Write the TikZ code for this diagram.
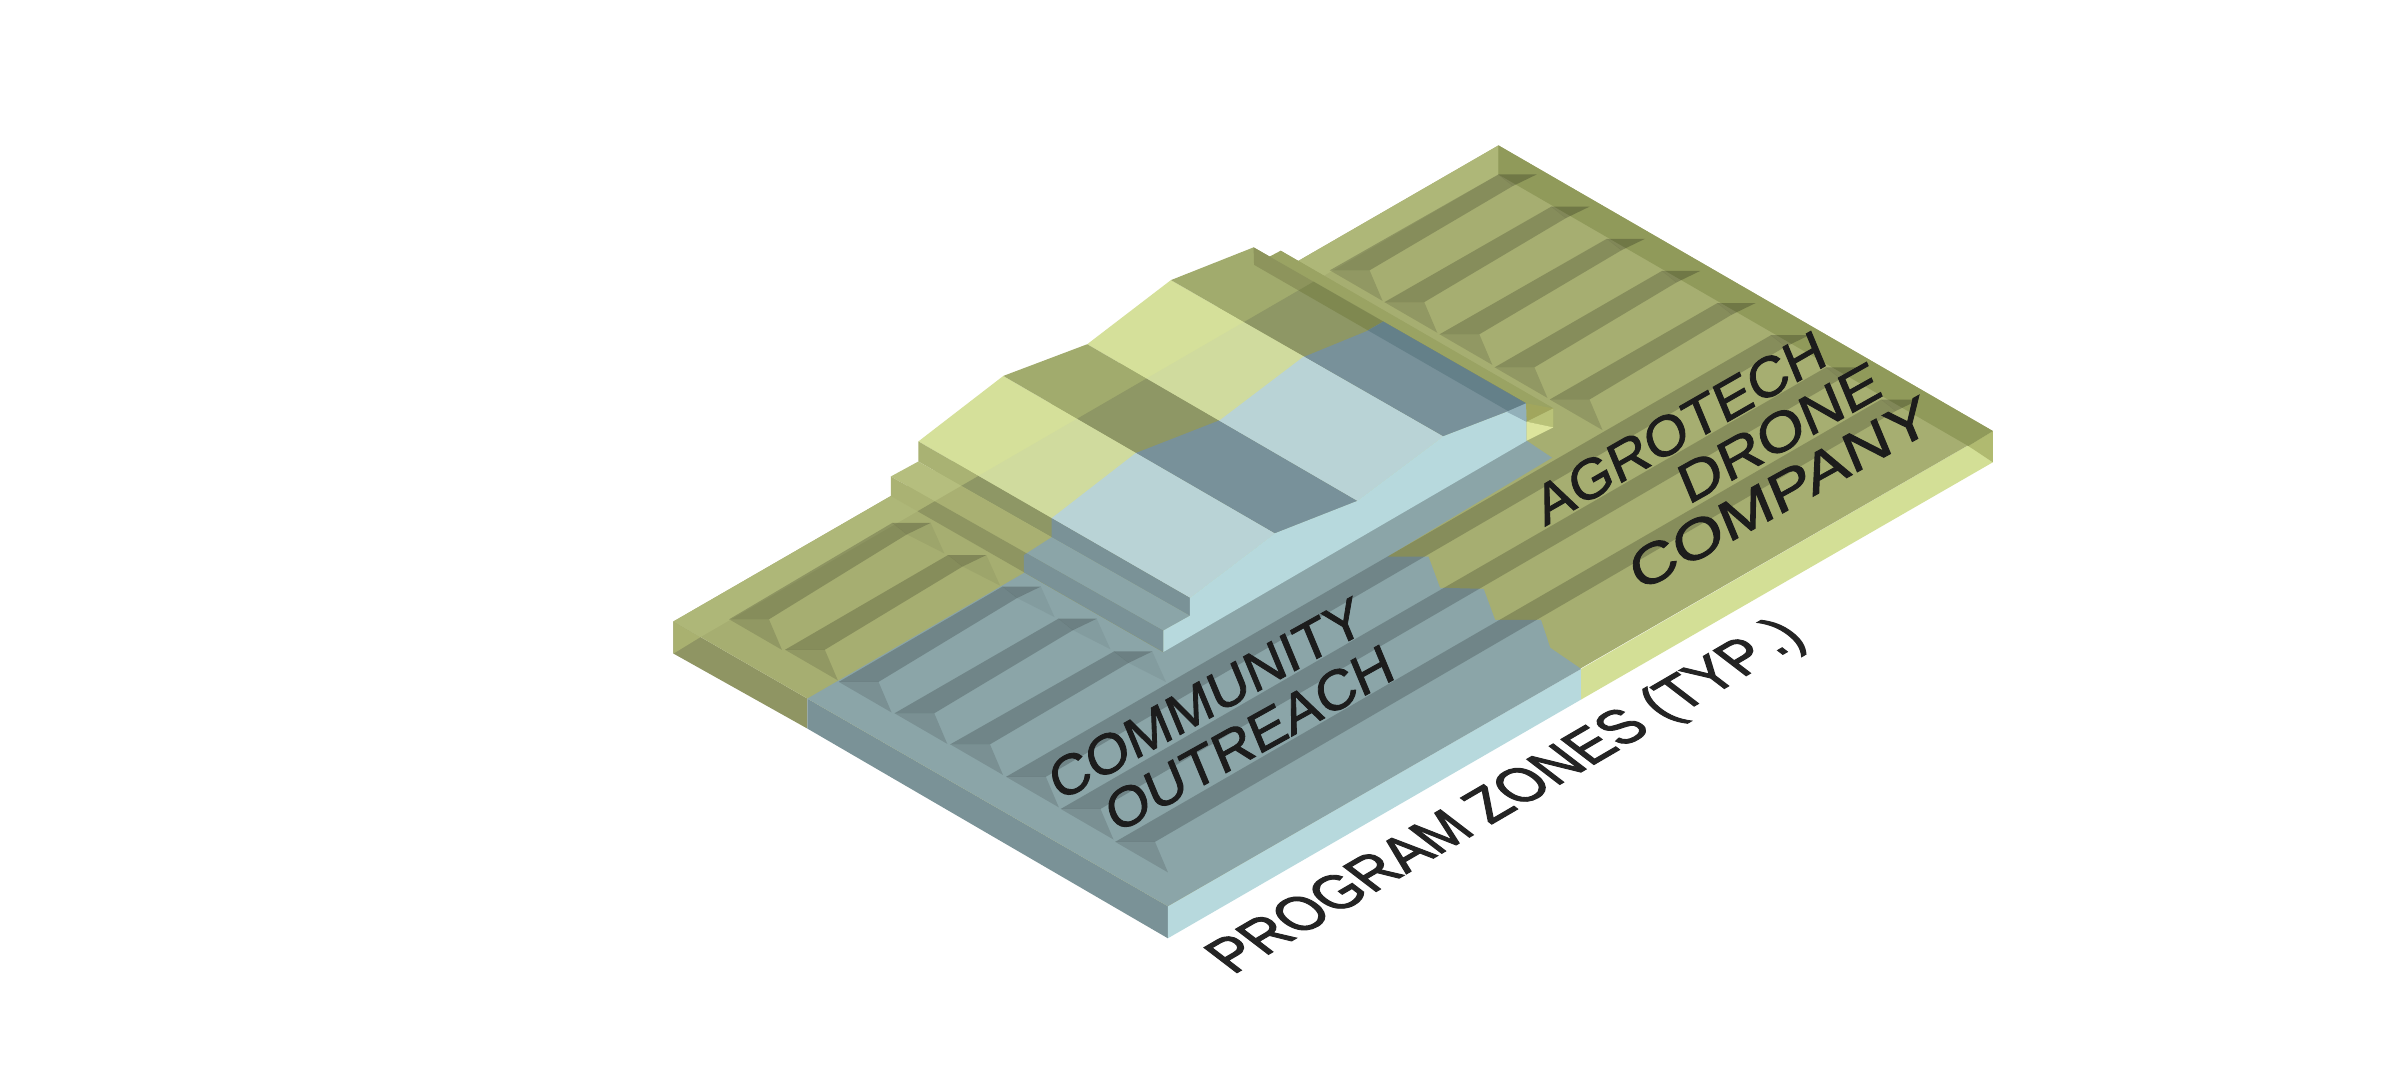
\documentclass[tikz,border=0pt]{standalone}
\usepackage{fontspec}
\setmainfont{Liberation Sans}
\newfontfamily\labfont[FakeBold=1.5]{Liberation Sans}
\newfontfamily\labfontb[FakeBold=2]{Liberation Sans}
\definecolor{gTop}{HTML}{A6AE71}
\definecolor{gStrip}{HTML}{AEB778}
\definecolor{gBand}{HTML}{909A5A}
\definecolor{gSide}{HTML}{8F9563}
\definecolor{bTop}{HTML}{8BA5A8}
\definecolor{bSide}{HTML}{7A9297}
\definecolor{bLight}{HTML}{B7D9DD}
\definecolor{ySide}{HTML}{D3DF96}
\definecolor{triL}{HTML}{A9B170}
\definecolor{triR}{HTML}{B0BA70}
\definecolor{ry1}{HTML}{D5E09A}
\definecolor{rd1}{HTML}{A1AB6D}
\definecolor{wa1}{HTML}{A9B273}
\definecolor{tp1}{HTML}{B5BE7E}
\definecolor{wb1}{HTML}{AAB273}
\definecolor{ry2}{HTML}{D0DB9E}
\definecolor{rd2}{HTML}{8E9765}
\definecolor{wa2}{HTML}{8E9765}
\definecolor{tp2}{HTML}{A9B072}
\definecolor{wb2}{HTML}{8E9561}
\definecolor{ry3}{HTML}{B9D3D6}
\definecolor{rd3}{HTML}{78919A}
\definecolor{bkBand}{HTML}{9AA363}
\definecolor{bkWall}{HTML}{8D945C}
\definecolor{bkWallIn}{HTML}{7F8850}
\definecolor{bkWallB}{HTML}{648089}
\definecolor{pkBlue}{HTML}{92B0B9}
\definecolor{pkOl}{HTML}{A1A65D}
\definecolor{pkMid}{HTML}{B9C278}
\definecolor{pkYel}{HTML}{DDE59C}
\tikzset{
  x=0.0153061cm,y=-0.0153061cm,
  grooveStrip/.style={fill=black,fill opacity=.19},
  grooveDark/.style={fill=black,fill opacity=.22},
  grooveTip/.style={fill=black,fill opacity=.12},
  grooveBack/.style={fill=black,fill opacity=.05},
  lab/.style={anchor=base west,inner sep=0pt,outer sep=0pt,text=black!89,font=\labfont\fontsize{20}{24}\selectfont},
  labb/.style={anchor=base west,inner sep=0pt,outer sep=0pt,text=black!86,font=\labfontb\fontsize{20}{24}\selectfont},
}
% x0 y0 = groove left front; xb yb = groove left back
\newcommand{\groovepart}[4]{%
  \fill[grooveStrip] (#1,#2) -- (#1+26,#2) -- (#3+9.5,#4+7.5) -- (#3,#4) -- cycle;
  \fill[grooveDark] (#3,#4) -- (#3+25,#4) -- (#3+9.5,#4+7.5) -- cycle;
  \fill[grooveTip] (#1,#2) -- (#1+26,#2) -- (#1+34.5,#2+20) -- cycle;
}
\newcommand{\groovebacktri}[2]{%
  \fill[grooveBack] (#1+25,#2) -- (#1+34,#2+20) -- (#1+9.5,#2+7.5) -- cycle;
}
% roofYellow roofDark wall2 top1 wall1
\newcommand{\bldg}[5]{%
  \fill[#1] (600,288.4) -- (655.5,245.6) -- (833,348.4) -- (777.4,390.6) -- cycle;
  \fill[#1] (710.3,224.9) -- (765,183) -- (943,285) -- (886.7,327.3) -- cycle;
  \fill[#2] (655.5,245.6) -- (710.3,224.9) -- (886.7,327.3) -- (833,348.4) -- cycle;
  \fill[#2] (765,183) -- (819,161.6) -- (997.5,264) -- (943,285) -- cycle;
  \fill[#3] (600,288.4) -- (777.4,390.6) -- (777.4,402.3) -- (600,301.5) -- cycle;
  \fill[#4] (582,311.3) -- (600,301.5) -- (777.4,402.3) -- (760,412) -- cycle;
  \fill[#5] (582,311.3) -- (760,412) -- (760,426) -- (582,324) -- cycle;
}
\begin{document}
\begin{tikzpicture}
\useasboundingbox (0,0) rectangle (1568,705.6);
\fill[white] (0,0) rectangle (1568,705.6);
% side faces
\fill[gSide] (440,406) -- (527.5,456.4) -- (527.5,476) -- (440,427) -- cycle;
\fill[triL] (440,406) -- (457.5,416.3) -- (440,427) -- cycle;
\fill[bSide] (527.5,456.4) -- (763,592) -- (763,613) -- (527.5,476) -- cycle;
\fill[bLight] (763,592) -- (1033,437) -- (1033,457) -- (763,613) -- cycle;
\fill[ySide] (1033,437) -- (1302,281.6) -- (1302,302) -- (1033,457) -- cycle;
\fill[triR] (1302,281.6) -- (1286,291.4) -- (1302,302) -- cycle;
% base top
\fill[gTop] (440,406) -- (979,95) -- (1302,281.6) -- (763,592) -- cycle;
\fill[gStrip] (440,406) -- (979,95) -- (979,114) -- (457.5,416.3) -- cycle;
\fill[gBand] (979,95) -- (1302,281.6) -- (1286,291.4) -- (979,114) -- cycle;
\fill[bTop] (527.5,456.4) -- (669,374.3) -- (997.4,287.9) -- (1014,299) -- (906.3,363.7) -- (933.3,363.7) -- (940.8,384) -- (969.3,384.7) -- (976.8,405) -- (1006.8,405) -- (1012.8,423.2) -- (1033,437) -- (763,592) -- cycle;
% grooves, left
\groovepart{476.4}{404.6}{583}{341.6}\groovebacktri{583}{341.6}
\groovepart{512.9}{424.5}{619.4}{362.6}\groovebacktri{619.4}{362.6}
\groovepart{548}{445.5}{655}{383.2}\groovebacktri{655}{383.2}
\groovepart{584.4}{466}{691.5}{404.2}\groovebacktri{691.5}{404.2}
\groovepart{620.8}{486.3}{727.8}{425.6}\groovebacktri{727.8}{425.6}
% long grooves
\groovepart{657.3}{507.5}{1157}{219}
\groovepart{693}{528.5}{1193}{240}
\groovepart{728.6}{550}{1229}{261}
% grooves, right
\groovepart{868.8}{176.6}{978.9}{114}
\groovepart{904.5}{197.4}{1013.5}{135}
\groovepart{940.5}{218.4}{1049.8}{156}
\groovepart{976.5}{240}{1085.8}{177}
\groovepart{1012.5}{261}{1122}{198}
% back band behind the building
\fill[bkBand] (819.3,173) -- (836.7,163.8) -- (1014.8,266.8) -- (997.4,275.5) -- cycle;
\fill[bkBand] (836.7,163.8) -- (1014.8,266.8) -- (1014.8,279.2) -- (837,176) -- cycle;
% building
\bldg{ry1}{rd1}{wa1}{tp1}{wb1}
\fill[bkWall] (819,161.6) -- (997,263.5) -- (997.4,275.5) -- (819.3,173) -- cycle;
\begin{scope}
  \clip (457.5,416.3) -- (979,114) -- (1500,416) -- (1000,700) -- (457.5,700) -- cycle;
  \bldg{ry2}{rd2}{wa2}{tp2}{wb2}
  \fill[bkWallIn] (819,161.6) -- (997,263.5) -- (997.4,275.5) -- (819.3,173) -- cycle;
\end{scope}
\begin{scope}
  \clip (669,374.3) -- (669,362.6) -- (687,351) -- (687,338.6) -- (742,296) -- (797,274.5) -- (851,233.5) -- (893,216.3) -- (904,210) -- (1100,210) -- (1100,600) -- (669,600) -- cycle;
  \bldg{ry3}{rd3}{bSide}{bTop}{bSide}
  \fill[bLight] (760,426) -- (760,412) -- (777.4,402.3) -- (777.4,390.6) -- (833,348.4) -- (886.7,327.3) -- (943,285) -- (997.5,264) -- (997.4,288) -- cycle;
  \fill[bkWallB] (819,161.6) -- (997,263.5) -- (997.4,275.5) -- (819.3,173) -- cycle;
\end{scope}
% pocket at the right end of the terrace
\fill[pkBlue] (997,263.5) -- (984.3,269) -- (997.4,275.5) -- cycle;
\fill[pkOl] (997,263.5) -- (1014.8,266.8) -- (997.4,275.5) -- cycle;
\fill[pkMid] (1014.8,266.8) -- (1014.8,279.2) -- (997.4,275.5) -- cycle;
\fill[pkYel] (997.4,275.5) -- (1014.8,279.2) -- (997.4,287.9) -- cycle;
% labels
\node[lab,cm={.712,.396,-.30,.72,(0,0)}] (lcommunity) at (692,524) {COMMUNITY};
\node[lab,cm={.714,.397,-.30,.72,(0,0)}] (loutreach) at (729,545) {OUTREACH};
\node[lab,cm={.714,.409,-.30,.72,(0,0)}] (lagrotech) at (1009.4,344) {AGROTECH};
\node[lab,cm={.773,.434,-.30,.72,(0,0)}] (ldrone) at (1103,330) {DRONE};
\node[lab,cm={.844,.466,-.30,.72,(0,0)}] (lcompany) at (1071,387) {COMPANY};
\node[labb,cm={.672,.392,-.68,.52,(0,0)}] (lprogram) at (805.6,637) {PROGRAM ZONES (TYP\kern.1em.)};
\end{tikzpicture}
\end{document}
